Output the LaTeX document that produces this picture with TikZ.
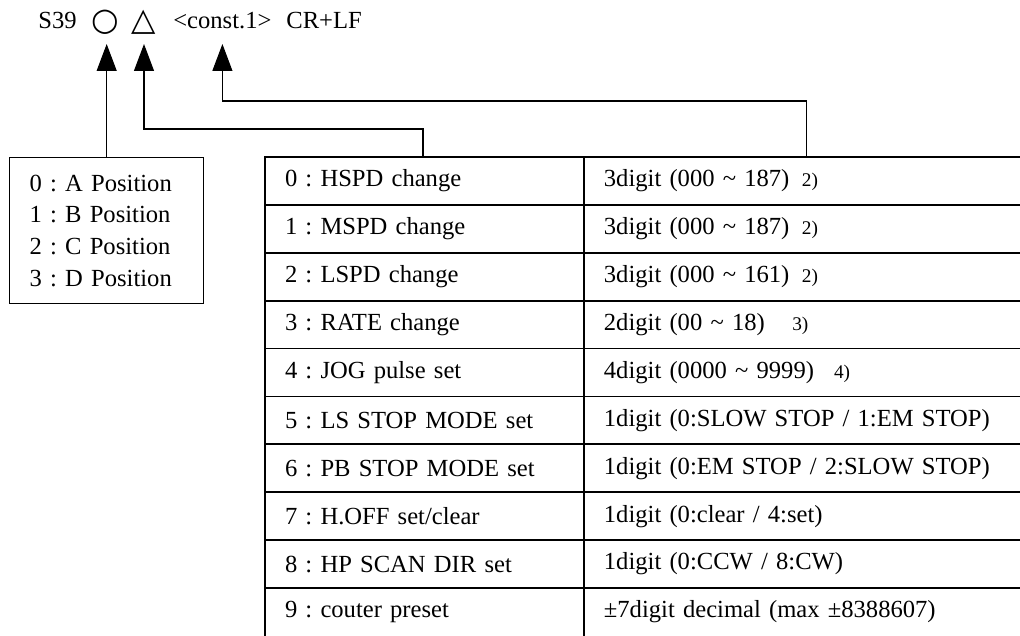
\documentclass[tikz,border=0pt]{standalone}
\usepackage{fontspec}
\setmainfont{Liberation Serif}
\newfontfamily\symfont{DejaVu Sans}
\usepackage{tikz}
\usetikzlibrary{arrows,arrows.meta,positioning,calc}

\newcommand{\fnote}[1]{{\fontsize{11}{12}\selectfont #1}}
\frenchspacing

\begin{document}
\begin{tikzpicture}[
    x=0.02cm, y=-0.02cm,
    every node/.style = {font=\fontsize{14}{18}\selectfont, inner sep=0pt},
    >={Triangle[width=0.4cm,length=0.54cm]},
    cell/.style = {draw, line width=1pt, outer sep=0pt, minimum height=0.958cm,
                   inner xsep=0.4cm, align=left},
    lcell/.style = {cell, text width=5.58cm},
    rcell/.style = {cell, text width=8.6cm},
    sym/.style = {font=\symfont\fontsize{18}{18}\selectfont},
    link/.style = {->, line width=0.6pt}
  ]
  \useasboundingbox (0,0) rectangle (1020,635);

  % command line
  \node[anchor=base west] (cmd) at (38,29) {S39};
  \node[sym] (pos) at (105,22) {○};
  \node[sym] (dir) at (144,22) {△};
  \node[anchor=base west] (const) at (173,29) {<const.1>};
  \node[anchor=base west] (crlf) at (286,29) {CR+LF};

  % position box
  \node[draw, line width=0.8pt, anchor=north west, minimum height=2.92cm,
        inner xsep=0.4cm, text width=3.08cm, align=left] (posbox) at (9,157)
        {0 : A Position\\1 : B Position\\2 : C Position\\3 : D Position};

  % table
  \node[lcell, anchor=north west] (r0l) at (265,157) {0 : HSPD change};
  \node[rcell, right=0pt of r0l] (r0r) {3digit (000 \textasciitilde{} 187)\hspace{0.25cm}\fnote{2)}};
  \node[lcell, below=0pt of r0l] (r1l) {1 : MSPD change};
  \node[rcell, right=0pt of r1l] (r1r) {3digit (000 \textasciitilde{} 187)\hspace{0.25cm}\fnote{2)}};
  \node[lcell, below=0pt of r1l] (r2l) {2 : LSPD change};
  \node[rcell, right=0pt of r2l] (r2r) {3digit (000 \textasciitilde{} 161)\hspace{0.25cm}\fnote{2)}};
  \node[lcell, below=0pt of r2l] (r3l) {3 : RATE change};
  \node[rcell, right=0pt of r3l] (r3r) {2digit (00 \textasciitilde{} 18)\hspace{0.55cm}\fnote{3)}};
  \node[lcell, below=0pt of r3l] (r4l) {4 : JOG pulse set};
  \node[rcell, right=0pt of r4l] (r4r) {4digit (0000 \textasciitilde{} 9999)\hspace{0.4cm}\fnote{4)}};
  \node[lcell, below=0pt of r4l] (r5l) {5 : LS STOP MODE set};
  \node[rcell, right=0pt of r5l] (r5r) {1digit (0:SLOW STOP / 1:EM STOP)};
  \node[lcell, below=0pt of r5l] (r6l) {6 : PB STOP MODE set};
  \node[rcell, right=0pt of r6l] (r6r) {1digit (0:EM STOP / 2:SLOW STOP)};
  \node[lcell, below=0pt of r6l] (r7l) {7 : H.OFF set/clear};
  \node[rcell, right=0pt of r7l] (r7r) {1digit (0:clear / 4:set)};
  \node[lcell, below=0pt of r7l] (r8l) {8 : HP SCAN DIR set};
  \node[rcell, right=0pt of r8l] (r8r) {1digit (0:CCW / 8:CW)};
  \node[lcell, draw=none, below=0pt of r8l] (r9l) {9 : couter preset};
  \node[rcell, draw=none, right=0pt of r9l] (r9r) {±7digit decimal (max ±8388607)};
  \draw[line width=1pt] (r9l.north west) -- ++(0,60);
  \draw[line width=1pt] (r9r.north west) -- ++(0,60);

  % arrows
  \coordinate (tip) at (0,44);
  \coordinate (dirbend) at (0,129);
  \coordinate (constbend) at (0,101);
  \coordinate (dirfoot) at ($(r0l.north west)+(158,0)$);
  \coordinate (constfoot) at ($(r0r.north west)+(223,0)$);
  \draw[link] (posbox.north) -- (posbox.north |- tip);
  \draw[link] (dirfoot) |- (dir |- dirbend) -- (dir |- tip);
  \draw[link] (constfoot) |- (const |- constbend) -- (const |- tip);
\end{tikzpicture}
\end{document}
